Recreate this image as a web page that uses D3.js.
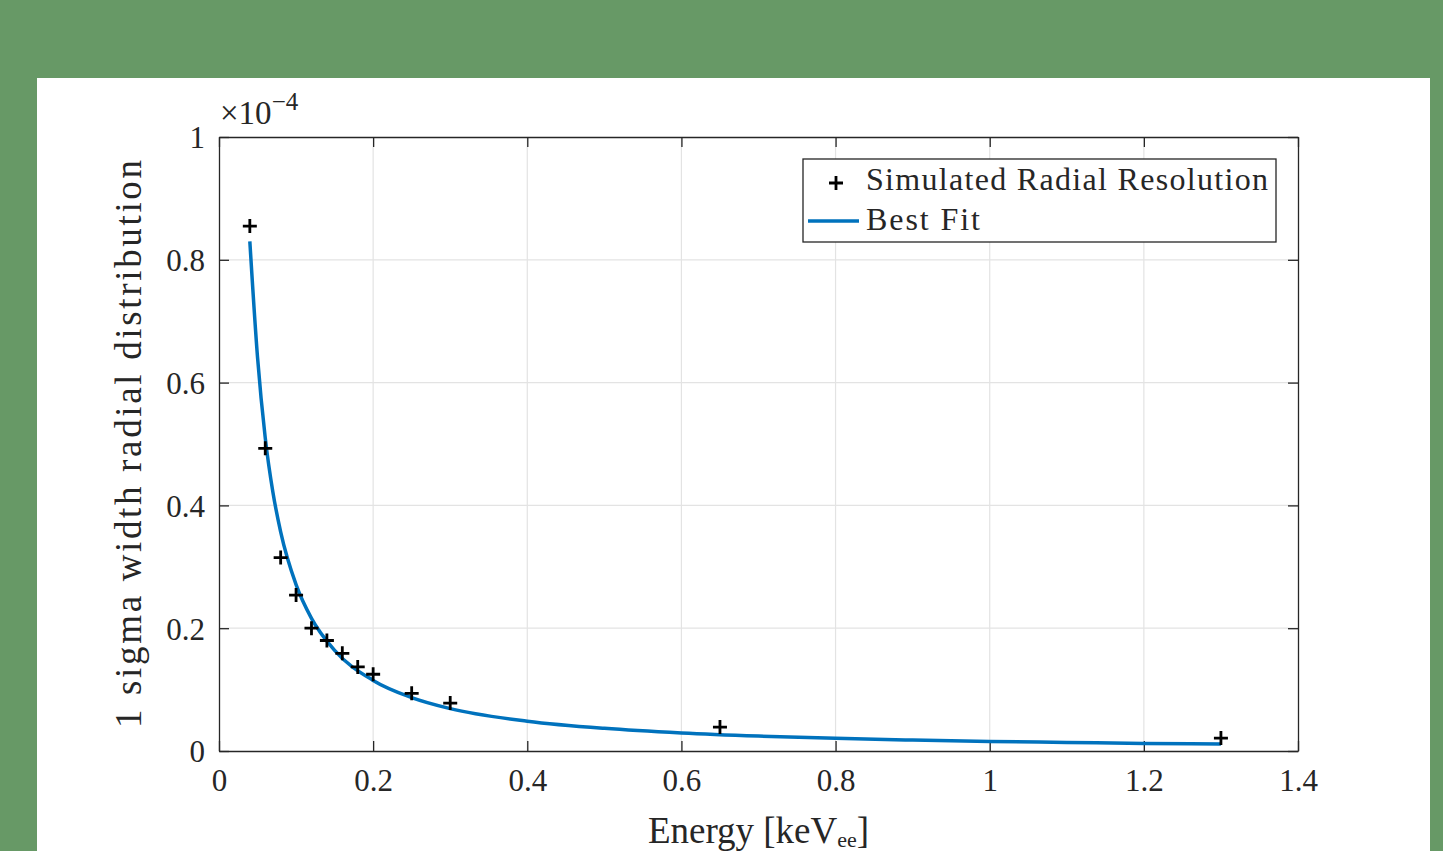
<!DOCTYPE html>
<html>
  <head>
    <meta charset="UTF-8">
    <title>Radial Resolution</title>
    <style>
      body {margin: 0; background-color: #679966; overflow: hidden}
      #chart svg {display: block}
      .tick text {font-family: "Liberation Serif", serif; fill: #262626}
    </style>
  </head>
  <body>
    <div id="chart"></div>
    <script src="https://d3js.org/d3.v7.min.js"></script>
    <script>
      // simulated points (energy keVee, sigma in units of 1e-4)
      const simEnergy = [0.04, 0.06, 0.08, 0.10, 0.12, 0.14, 0.16, 0.18, 0.20, 0.25, 0.30, 0.65, 1.30];
      const simSigma = [0.855, 0.493, 0.315, 0.254, 0.200, 0.180, 0.159, 0.137, 0.125, 0.094, 0.078, 0.039, 0.021];

      // best fit curve
      const fitEnergy = [0.04, 0.05, 0.06, 0.07, 0.08, 0.10, 0.12, 0.15, 0.20, 0.25, 0.30, 0.40, 0.50, 0.60, 0.70, 0.80, 0.90, 1.00, 1.10, 1.20, 1.30];
      const fitSigma = [0.83, 0.641, 0.51, 0.421, 0.357, 0.271, 0.216, 0.164, 0.115, 0.087, 0.069, 0.0486, 0.0369, 0.0294, 0.0243, 0.0206, 0.0178, 0.0156, 0.0139, 0.0124, 0.0113];

      const xTicks = [0, 0.2, 0.4, 0.6, 0.8, 1, 1.2, 1.4];
      const yTicks = [0, 0.2, 0.4, 0.6, 0.8, 1];

      const width = 1443, height = 851;
      const svg = d3.select("#chart").append("svg").attr("width", width).attr("height", height);

      // white figure panel
      svg.append("rect").attr("x", 37).attr("y", 78).attr("width", 1393).attr("height", height - 78).attr("fill", "#fff");

      const pLeft = 219, pRight = 1298, pTop = 137, pBottom = 751;
      const x = d3.scaleLinear().domain([0, 1.4]).range([pLeft, pRight]);
      const y = d3.scaleLinear().domain([0, 1]).range([pBottom, pTop]);

      // grid
      svg.append("g").selectAll("line").data(xTicks.slice(1, -1)).join("line")
        .attr("x1", d => x(d)).attr("x2", d => x(d)).attr("y1", pTop).attr("y2", pBottom)
        .attr("stroke", "#e3e3e3").attr("stroke-width", 1.2);
      svg.append("g").selectAll("line").data(yTicks.slice(1, -1)).join("line")
        .attr("y1", d => y(d)).attr("y2", d => y(d)).attr("x1", pLeft).attr("x2", pRight)
        .attr("stroke", "#e3e3e3").attr("stroke-width", 1.2);

      const fmt = d => d3.format("")(d);

      const xAxis = svg.append("g").attr("transform", `translate(0,${pBottom})`)
        .call(d3.axisBottom(x).tickValues(xTicks).tickFormat(fmt).tickSizeInner(-10).tickSizeOuter(0).tickPadding(18));
      const yAxis = svg.append("g").attr("transform", `translate(${pLeft},0)`)
        .call(d3.axisLeft(y).tickValues(yTicks).tickFormat(fmt).tickSizeInner(-10).tickSizeOuter(0).tickPadding(14));
      svg.append("g").attr("transform", `translate(0,${pTop})`)
        .call(d3.axisTop(x).tickValues(xTicks).tickFormat("").tickSizeInner(-10).tickSizeOuter(0));
      svg.append("g").attr("transform", `translate(${pRight},0)`)
        .call(d3.axisRight(y).tickValues(yTicks).tickFormat("").tickSizeInner(-10).tickSizeOuter(0));

      svg.selectAll(".domain").attr("stroke", "#262626").attr("stroke-width", 1.3);
      svg.selectAll(".tick line").attr("stroke", "#262626").attr("stroke-width", 1.3);
      xAxis.selectAll("text").attr("font-size", 31);
      yAxis.selectAll("text").attr("font-size", 31).attr("dy", "0.35em");

      // exponent label
      const ex = svg.append("text").attr("x", pLeft + 1).attr("y", 124)
        .attr("font-family", "Liberation Serif, serif").attr("font-size", 33).attr("fill", "#262626");
      ex.append("tspan").text("\u00d710");
      ex.append("tspan").attr("dy", -14).attr("font-size", 25).text("\u22124");

      // axis labels
      const xl = svg.append("text").attr("x", (pLeft + pRight) / 2).attr("y", 843).attr("text-anchor", "middle")
        .attr("font-family", "Liberation Serif, serif").attr("font-size", 37).attr("fill", "#262626");
      xl.append("tspan").text("Energy [keV");
      xl.append("tspan").attr("font-size", 22).attr("dy", 4).text("ee");
      xl.append("tspan").attr("dy", -4).text("]");

      svg.append("text").attr("transform", `translate(141,${(pTop + pBottom) / 2}) rotate(-90)`)
        .attr("text-anchor", "middle").attr("font-family", "Liberation Serif, serif").attr("font-size", 37)
        .attr("textLength", 568).attr("lengthAdjust", "spacing")
        .attr("fill", "#262626").text("1 sigma width radial distribution");

      // fit line
      const fit = fitEnergy.map((e, i) => [e, fitSigma[i]]);
      svg.append("path").datum(fit)
        .attr("d", d3.line().x(d => x(d[0])).y(d => y(d[1])).curve(d3.curveMonotoneX))
        .attr("fill", "none").attr("stroke", "#0072BD").attr("stroke-width", 3.5);

      // markers
      const drawPlus = (g, cx, cy) => {
        g.append("path").attr("d", `M${cx - 7},${cy}H${cx + 7}M${cx},${cy - 7}V${cy + 7}`)
          .attr("stroke", "#000").attr("stroke-width", 2.8).attr("fill", "none");
      };
      const pts = svg.append("g");
      simEnergy.forEach((e, i) => drawPlus(pts, x(e), y(simSigma[i])));

      // legend
      const lg = svg.append("g");
      lg.append("rect").attr("x", 803).attr("y", 159).attr("width", 473).attr("height", 83)
        .attr("fill", "#fff").attr("stroke", "#262626").attr("stroke-width", 1.3);
      drawPlus(lg, 836, 183);
      lg.append("line").attr("x1", 808).attr("x2", 859).attr("y1", 221).attr("y2", 221)
        .attr("stroke", "#0072BD").attr("stroke-width", 3.5);
      lg.append("text").attr("x", 866).attr("y", 190).attr("font-family", "Liberation Serif, serif")
        .attr("font-size", 32).attr("textLength", 402).attr("lengthAdjust", "spacing")
        .attr("fill", "#262626").text("Simulated Radial Resolution");
      lg.append("text").attr("x", 866).attr("y", 230).attr("font-family", "Liberation Serif, serif")
        .attr("font-size", 32).attr("textLength", 114).attr("lengthAdjust", "spacing")
        .attr("fill", "#262626").text("Best Fit");
    </script>
  </body>
</html>
